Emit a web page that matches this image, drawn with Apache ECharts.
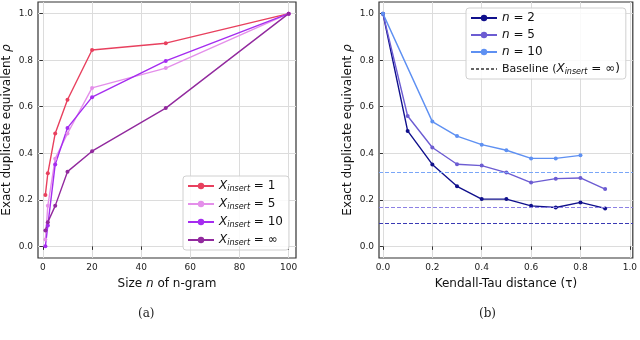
<!DOCTYPE html>
<html>
<head>
<meta charset="utf-8">
<script src="https://cdn.jsdelivr.net/npm/echarts@6/dist/echarts.min.js"></script>
<style>
  html, body { margin: 0; padding: 0; background: #fff; }
  #chart { width: 640px; height: 340px; }
</style>
</head>
<body>
<div id="chart"></div>
<script>
// (a) n-gram size vs rho
const ngramSizes = [1, 2, 5, 10, 20, 50, 100];
const insert1 = [0.221, 0.314, 0.485, 0.630, 0.844, 0.873, 1.0];
const insert5 = [0.03, 0.175, 0.377, 0.485, 0.681, 0.766, 1.0];
const insert10 = [0.0, 0.09, 0.352, 0.509, 0.641, 0.797, 1.0];
const insertInf = [0.068, 0.104, 0.174, 0.321, 0.409, 0.594, 1.0];

// (b) kendall tau vs rho
const tauValues = [0, 0.1, 0.2, 0.3, 0.4, 0.5, 0.6, 0.7, 0.8, 0.9];
const n2 = [1.0, 0.496, 0.352, 0.258, 0.203, 0.203, 0.174, 0.167, 0.189, 0.163];
const n5 = [1.0, 0.56, 0.425, 0.353, 0.347, 0.317, 0.274, 0.291, 0.294, 0.246];
const n10 = [1.0, null, 0.536, 0.474, 0.437, 0.413, 0.378, 0.378, 0.391, null];
const baselines = [0.105, 0.173, 0.321]; // n=2, n=5, n=10

const xTicksA = [0, 20, 40, 60, 80, 100];
const xTicksB = [0, 0.2, 0.4, 0.6, 0.8, 1.0];
const yTicks = [0, 0.2, 0.4, 0.6, 0.8, 1.0];

const pairs = (xs, ys) => xs.map((x, i) => [x, ys[i]]).filter(p => p[1] !== null);

const font = 'DejaVu Sans';
const legendRich = {
  x: { fontFamily: font, fontStyle: 'italic', fontSize: 12, color: '#111' },
  s: { fontFamily: font, fontStyle: 'italic', fontSize: 8, color: '#111', verticalAlign: 'bottom', padding: [6, 0, 0, 0] },
  t: { fontFamily: font, fontSize: 12, color: '#111' },
  p: { fontFamily: font, fontSize: 11, color: '#111' }
};
const legendLabels = {
  'X1': '{x|X}{s|insert}{t| = 1}',
  'X5': '{x|X}{s|insert}{t| = 5}',
  'X10': '{x|X}{s|insert}{t| = 10}',
  'Xinf': '{x|X}{s|insert}{t| = ∞}',
  'n2': '{x|n}{t| = 2}',
  'n5': '{x|n}{t| = 5}',
  'n10': '{x|n}{t| = 10}',
  'Baseline': '{p|Baseline (}{x|X}{s|insert}{t| = ∞)}'
};

function xAxis(idx, min, max, ticks, name) {
  return {
    type: 'value', gridIndex: idx, min: min, max: max,
    name: name, nameLocation: 'middle', nameGap: 20,
    nameTextStyle: { fontFamily: font, fontSize: 12, color: '#111',
      rich: { i: { fontFamily: font, fontStyle: 'italic', fontSize: 12, color: '#111' } } },
    axisLine: { show: false },
    axisTick: { show: true, length: 3.5, customValues: ticks, lineStyle: { color: '#333' } },
    axisLabel: { customValues: ticks, fontFamily: font, fontSize: 9, color: '#222', margin: 5,
      formatter: v => (max < 5 ? v.toFixed(1) : String(v)) },
    splitLine: { show: true, lineStyle: { color: '#dcdcdc', width: 1 } }
  };
}
function yAxis(idx) {
  return {
    type: 'value', gridIndex: idx, min: -0.05, max: 1.05,
    name: 'Exact duplicate equivalent {i|ρ}', nameLocation: 'middle', nameRotate: 90, nameGap: 25,
    nameTextStyle: { fontFamily: font, fontSize: 12, color: '#111',
      rich: { i: { fontFamily: font, fontStyle: 'italic', fontSize: 12, color: '#111' } } },
    axisLine: { show: false },
    axisTick: { show: true, length: 3.5, customValues: yTicks, lineStyle: { color: '#333' } },
    axisLabel: { customValues: yTicks, fontFamily: font, fontSize: 9, color: '#222', margin: 5,
      formatter: v => v.toFixed(1) },
    splitLine: { show: true, lineStyle: { color: '#dcdcdc', width: 1 } }
  };
}
function lineSeries(name, xi, data, color) {
  return {
    name: name, type: 'line', xAxisIndex: xi, yAxisIndex: xi, data: data,
    symbol: 'circle', symbolSize: 4, connectNulls: true,
    lineStyle: { color: color, width: 1.4 }, itemStyle: { color: color }
  };
}
function legend(left, top, names) {
  return {
    orient: 'vertical', left: left, top: top, data: names,
    backgroundColor: 'rgba(255,255,255,0.85)', borderColor: '#d0d0d0', borderWidth: 1, borderRadius: 3,
    padding: [4, 6, 3, 4], itemWidth: 26, itemHeight: 8, itemGap: 5,
    formatter: n => legendLabels[n],
    textStyle: { rich: legendRich }
  };
}

const chart = echarts.init(document.getElementById('chart'));
chart.setOption({
  animation: false,
  grid: [
    { left: 37, top: 2, width: 259, height: 256, show: true, borderColor: '#333', borderWidth: 1.2, backgroundColor: 'transparent' },
    { left: 379, top: 2, width: 257, height: 256, show: true, borderColor: '#333', borderWidth: 1.2, backgroundColor: 'transparent' }
  ],
  xAxis: [
    xAxis(0, -2, 103, xTicksA, 'Size {i|n} of n-gram'),
    xAxis(1, -0.016, 1.012, xTicksB, 'Kendall-Tau distance (τ)')
  ],
  yAxis: [yAxis(0), yAxis(1)],
  legend: [
    legend(183, 176, ['X1', 'X5', 'X10', 'Xinf']),
    legend(466, 8, ['n2', 'n5', 'n10', { name: 'Baseline', itemStyle: { opacity: 0 } }])
  ],
  series: [
    lineSeries('X1', 0, pairs(ngramSizes, insert1), '#e8405e'),
    lineSeries('X5', 0, pairs(ngramSizes, insert5), '#e48fea'),
    lineSeries('X10', 0, pairs(ngramSizes, insert10), '#a52cf0'),
    lineSeries('Xinf', 0, pairs(ngramSizes, insertInf), '#922a9e'),
    lineSeries('n2', 1, pairs(tauValues, n2), '#10108c'),
    lineSeries('n5', 1, pairs(tauValues, n5), '#6c5cd2'),
    lineSeries('n10', 1, pairs(tauValues, n10), '#5e90f2'),
    {
      name: 'Baseline', type: 'line', xAxisIndex: 1, yAxisIndex: 1, data: [],
      symbol: 'none', lineStyle: { color: '#666', type: [3, 2], width: 1 }, itemStyle: { color: '#666' },
      markLine: {
        silent: true, symbol: 'none', label: { show: false },
        data: [
          { yAxis: baselines[0], lineStyle: { color: '#3a3ab4', type: [4, 2], width: 1 } },
          { yAxis: baselines[1], lineStyle: { color: '#8c80e4', type: [4, 2], width: 1 } },
          { yAxis: baselines[2], lineStyle: { color: '#79a6f8', type: [4, 2], width: 1 } }
        ]
      }
    }
  ],
  graphic: [
    { type: 'text', left: 138, top: 308, style: { text: '(a)', fontFamily: 'DejaVu Serif', fontSize: 12, fill: '#222' } },
    { type: 'text', left: 479, top: 308, style: { text: '(b)', fontFamily: 'DejaVu Serif', fontSize: 12, fill: '#222' } }
  ]
});
</script>
</body>
</html>
